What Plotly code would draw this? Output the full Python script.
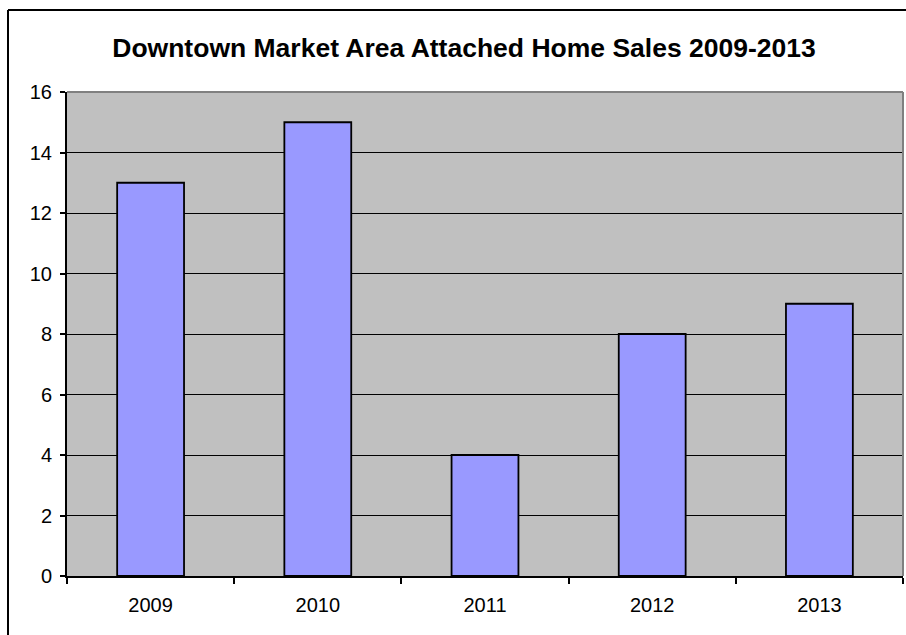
import plotly.graph_objects as go

years = ["2009", "2010", "2011", "2012", "2013"]
sales = [13, 15, 4, 8, 9]
y_ticks = [0, 2, 4, 6, 8, 10, 12, 14, 16]

W, H = 906, 635
L, R, T, B = 67, 3, 92, 59

fig = go.Figure(
    go.Bar(
        x=years,
        y=sales,
        width=0.4,
        marker=dict(color="#9999FF", line=dict(color="black", width=1.8)),
        hoverinfo="x+y",
    )
)

font = "Liberation Sans, Arial, sans-serif"

fig.update_layout(
    width=W,
    height=H,
    margin=dict(l=L, r=R, t=T, b=B),
    paper_bgcolor="white",
    plot_bgcolor="#C0C0C0",
    showlegend=False,
    font=dict(family=font, color="black", size=20),
    title=dict(
        text="<b>Downtown Market Area Attached Home Sales 2009-2013</b>",
        x=464 / W,
        xanchor="center",
        xref="container",
        y=1 - 48 / H,
        yanchor="middle",
        yref="container",
        font=dict(family=font, size=26.5, color="black"),
    ),
    bargap=0.6,
)

fig.update_xaxes(
    type="category",
    showline=True,
    linecolor="black",
    linewidth=2,
    ticks="outside",
    tickson="boundaries",
    ticklen=6,
    tickwidth=1.5,
    tickcolor="black",
    showgrid=False,
    tickfont=dict(size=20),
    ticklabelstandoff=10,
)

fig.update_yaxes(
    range=[0, 16],
    tickvals=y_ticks,
    showline=True,
    linecolor="black",
    linewidth=2,
    ticks="outside",
    ticklen=5,
    tickwidth=1.5,
    tickcolor="black",
    showgrid=True,
    gridcolor="black",
    gridwidth=1.2,
    zeroline=False,
    tickfont=dict(size=20),
    ticklabelstandoff=4,
)

# paper-coordinate helpers for pixel-placed decorations
pw, ph = W - L - R, H - T - B


def px(x):
    return (x - L) / pw


def py(y):
    return (H - B - y) / ph


shapes = [
    # plot area frame on top and right
    dict(type="line", xref="paper", yref="paper", x0=0, x1=1, y0=1, y1=1,
         line=dict(color="#808080", width=2)),
    dict(type="line", xref="paper", yref="paper", x0=1, x1=1, y0=0, y1=1,
         line=dict(color="#808080", width=2)),
    # chart border: left and top edges visible
    dict(type="line", xref="paper", yref="paper",
         x0=px(8), x1=px(W + 40), y0=py(10), y1=py(10),
         line=dict(color="black", width=2), layer="above"),
    dict(type="line", xref="paper", yref="paper",
         x0=px(8), x1=px(8), y0=py(H + 40), y1=py(10),
         line=dict(color="black", width=2), layer="above"),
]
fig.update_layout(shapes=shapes)

fig.write_html("out.html")
